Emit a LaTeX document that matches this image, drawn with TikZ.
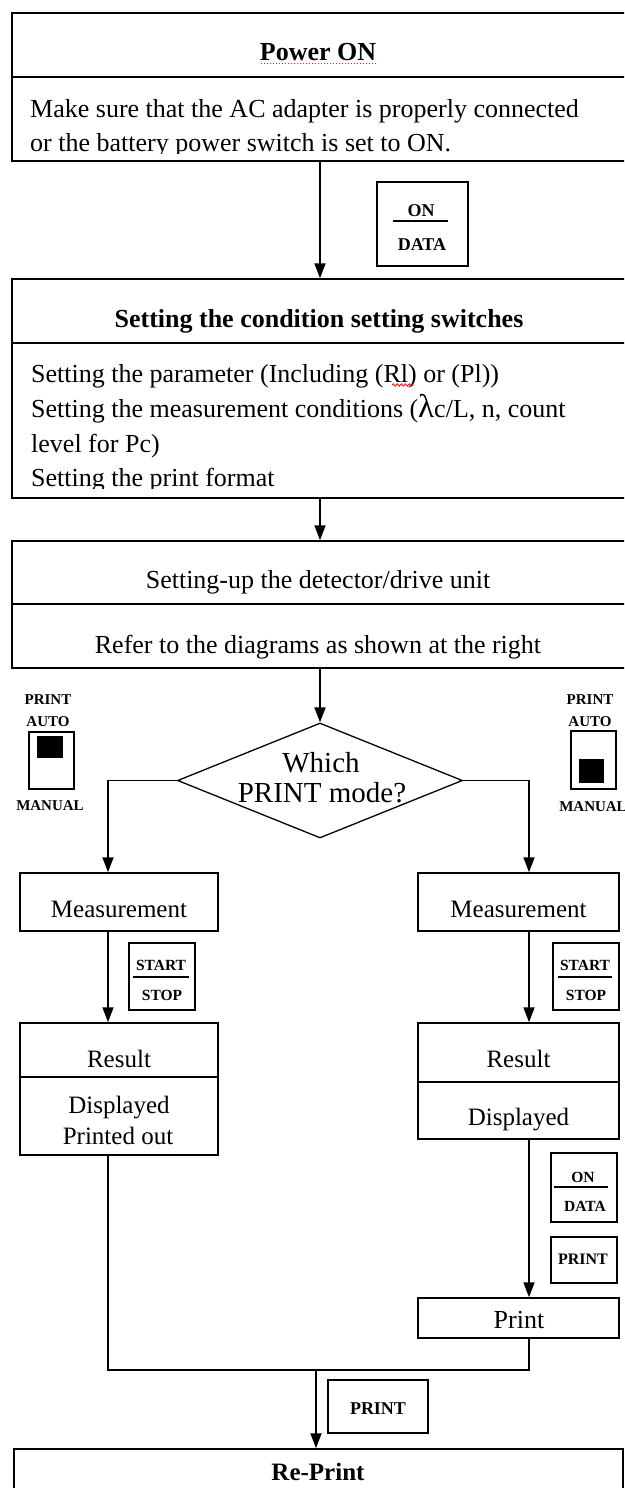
\documentclass[tikz,border=0pt]{standalone}
\usepackage{fontspec}
\setmainfont{Liberation Serif}
\usetikzlibrary{arrows.meta,shapes.geometric,decorations.pathmorphing}
\begin{document}
\begin{tikzpicture}[x=1pt,y=1pt,
  box/.style={draw,line width=1.5pt,inner sep=0pt},
  arr/.style={line width=1.8pt,-{Triangle[length=15pt,width=11pt]}},
  conn/.style={line width=1.5pt},
  body/.style={font=\fontsize{26}{26}\selectfont,inner sep=0pt,anchor=base},
  bodyl/.style={body,anchor=base west},
  mid/.style={font=\fontsize{25}{25}\selectfont,inner sep=0pt,anchor=base},
  key/.style={font=\fontsize{15.5}{15.5}\selectfont\bfseries,inner sep=0pt,anchor=center},
  keybar/.style={line width=1.3pt}
]
\useasboundingbox (0,0) rectangle (624,-1488);
\clip (0,0) rectangle (624,-1488);

% columns and helper coordinates
\coordinate (cM) at (320,0);
\coordinate (cL) at (108,0);
\coordinate (cR) at (529,0);
\coordinate (mg) at (316,-1370);
\coordinate (d1) at (0,-77);
\coordinate (d2) at (0,-343);
\coordinate (d3) at (0,-604);
\coordinate (d4) at (0,-1077);
\coordinate (d5) at (0,-1082);

% ---------- main boxes ----------
\node[box,minimum width=628,minimum height=148] (b1) at (326,-87) {};
\draw[line width=1.5pt] (b1.west |- d1) -- (b1.east |- d1);
\node[body] (t1) at (318,-61) {\bfseries Power ON};
\draw[magenta!80!violet,dotted,line width=1pt] (261,-64) -- (376,-64);
\node[bodyl] (t1a) at (30,-117) {Make sure that the AC adapter is properly connected};
\begin{scope}
  \clip (0,-120) rectangle (624,-153);
  \node[bodyl] (t1b) at (30,-151) {or the battery power switch is set to ON.};
\end{scope}

\node[box,minimum width=628,minimum height=219] (b2) at (326,-388.5) {};
\draw[line width=1.5pt] (b2.west |- d2) -- (b2.east |- d2);
\node[body] (t2) at (319,-327) {\bfseries Setting the condition setting switches};
\node[bodyl] (t2a) at (31,-382) {Setting the parameter (Including (Rl) or (Pl))};
\draw[red,line width=0.8pt,decorate,decoration={snake,amplitude=1.2pt,segment length=4pt}] (392,-385) -- (414,-385);
\node[bodyl] (t2b) at (31,-417) {Setting the measurement conditions ({\fontsize{33}{33}\selectfont λ}c/L, n, count};
\node[bodyl] (t2c) at (31,-452) {level for Pc)};
\begin{scope}
  \clip (0,-455) rectangle (624,-488);
  \node[bodyl] (t2d) at (31,-486) {Setting the print format};
\end{scope}

\node[box,minimum width=628,minimum height=127] (b3) at (326,-604.5) {};
\draw[line width=1.5pt] (b3.west |- d3) -- (b3.east |- d3);
\node[body] (t3) at (318,-588) {Setting-up the detector/drive unit};
\node[body] (t3a) at (318,-653) {Refer to the diagrams as shown at the right};

% ---------- ON/DATA key at top ----------
\node[box,minimum width=91,minimum height=84] (k1) at (422.5,-224) {};
\node[key,font=\fontsize{18}{18}\selectfont\bfseries] (k1a) at (421,-211) {ON};
\draw[keybar] (393,-221) -- (448,-221);
\node[key,font=\fontsize{18}{18}\selectfont\bfseries] (k1b) at (422,-245) {DATA};

% ---------- decision ----------
\node[draw,line width=1.3pt,shape=diamond,minimum width=285,minimum height=115,inner sep=0pt] (dia) at (320,-780.5) {};
\node[font=\fontsize{29}{29}\selectfont,inner sep=0pt,anchor=base] (q1) at (321,-772) {Which};
\node[font=\fontsize{29}{29}\selectfont,inner sep=0pt,anchor=base] (q2) at (322,-802) {PRINT mode?};

% switches
\node[key,font=\fontsize{15}{15}\selectfont\bfseries] (sl1) at (48,-700) {PRINT};
\node[key,font=\fontsize{15}{15}\selectfont\bfseries] (sl2) at (48,-722) {AUTO};
\node[box,line width=1.3pt,minimum width=45,minimum height=57] (sl) at (51.5,-760.5) {};
\node[fill=black,inner sep=0pt,minimum width=26,minimum height=22] (slk) at (50,-747) {};
\node[key,font=\fontsize{15}{15}\selectfont\bfseries] (sl3) at (50,-806) {MANUAL};

\node[key,font=\fontsize{15}{15}\selectfont\bfseries] (sr1) at (590,-700) {PRINT};
\node[key,font=\fontsize{15}{15}\selectfont\bfseries] (sr2) at (590,-722) {AUTO};
\node[box,line width=1.3pt,minimum width=45,minimum height=58] (sr) at (593.5,-760) {};
\node[fill=black,inner sep=0pt,minimum width=25,minimum height=24] (srk) at (591.5,-771) {};
\node[key,font=\fontsize{15}{15}\selectfont\bfseries] (sr3) at (593,-807) {MANUAL};

% ---------- left branch ----------
\node[box,minimum width=198,minimum height=58] (mL) at (119,-902) {};
\node[mid] (mLt) at (119,-917) {Measurement};
\node[box,minimum width=66,minimum height=67] (sL) at (162,-976.5) {};
\node[key] (sLa) at (161,-965) {START};
\draw[keybar] (133,-977) -- (189,-977);
\node[key] (sLb) at (162,-995) {STOP};
\node[box,minimum width=198,minimum height=132] (rL) at (119,-1089) {};
\draw[line width=1.5pt] (rL.west |- d4) -- (rL.east |- d4);
\node[mid] (rLt) at (119,-1067) {Result};
\node[mid] (rLa) at (119,-1113) {Displayed};
\node[mid] (rLb) at (118,-1144) {Printed out};

% ---------- right branch ----------
\node[box,minimum width=201,minimum height=58] (mR) at (518.5,-902) {};
\node[mid] (mRt) at (518.5,-917) {Measurement};
\node[box,minimum width=66,minimum height=67] (sR) at (586,-976.5) {};
\node[key] (sRa) at (585,-965) {START};
\draw[keybar] (558,-977) -- (612,-977);
\node[key] (sRb) at (586,-995) {STOP};
\node[box,minimum width=201,minimum height=116] (rR) at (518.5,-1081) {};
\draw[line width=1.5pt] (rR.west |- d5) -- (rR.east |- d5);
\node[mid] (rRt) at (518.5,-1067) {Result};
\node[mid] (rRa) at (518.5,-1125) {Displayed};
\node[box,minimum width=66,minimum height=69] (kR) at (584,-1187.5) {};
\node[key] (kRa) at (583,-1177) {ON};
\draw[keybar] (554,-1187) -- (608,-1187);
\node[key] (kRb) at (585,-1206) {DATA};
\node[box,minimum width=66,minimum height=46] (pR) at (584,-1260) {};
\node[key,font=\fontsize{16}{16}\selectfont\bfseries] (pRt) at (583,-1259) {PRINT};
\node[box,minimum width=201,minimum height=40] (pr) at (518.5,-1318) {};
\node[body] (prt) at (519,-1328) {Print};

% ---------- bottom ----------
\node[box,minimum width=100,minimum height=53] (pB) at (378,-1406.5) {};
\node[key,font=\fontsize{18}{18}\selectfont\bfseries] (pBt) at (378,-1409) {PRINT};
\node[box,minimum width=609,minimum height=61] (rp) at (318.5,-1479.5) {};
\node[mid] (rpt) at (318,-1480) {\bfseries Re-Print};

% ---------- connectors ----------
\draw[arr] (b1.south -| cM) -- (b2.north -| cM);
\draw[arr] (b2.south -| cM) -- (b3.north -| cM);
\draw[arr] (b3.south -| cM) -- (dia.north);
\draw[arr] (dia.west) -| (mL.north -| cL);
\draw[arr] (dia.east) -| (mR.north -| cR);
\draw[arr] (mL.south -| cL) -- (rL.north -| cL);
\draw[arr] (mR.south -| cR) -- (rR.north -| cR);
\draw[arr] (rR.south -| cR) -- (pr.north -| cR);
\draw[conn] (rL.south -| cL) |- (mg) -| (pr.south -| cR);
\draw[arr] (mg) -- (rp.north -| mg);
\end{tikzpicture}
\end{document}
